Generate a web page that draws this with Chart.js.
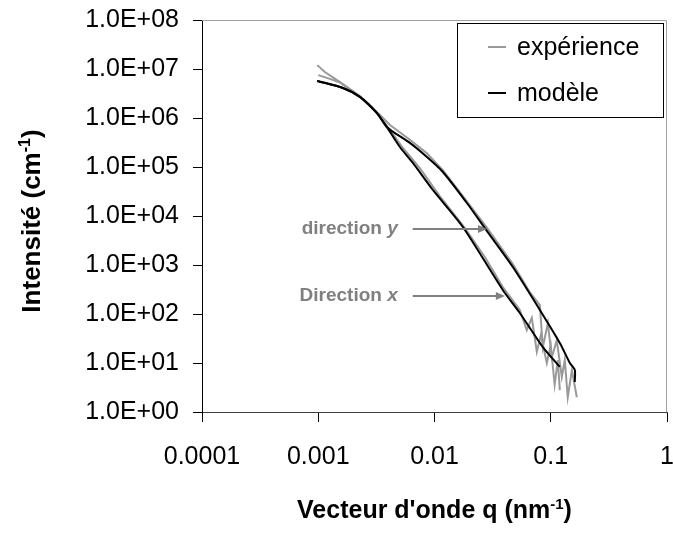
<!DOCTYPE html>
<html>
<head>
<meta charset="utf-8">
<script src="https://cdn.jsdelivr.net/npm/chart.js@4.4.1/dist/chart.umd.min.js"></script>
<style>
  html, body { margin: 0; padding: 0; background: #fff; }
  canvas { display: block; }
</style>
</head>
<body>
<canvas id="chart" width="673" height="533"></canvas>
<script>
/* Intensité vs vecteur d'onde, directions x et y (log-log) */
const X_TICKS = [0.0001, 0.001, 0.01, 0.1, 1];
const X_TICK_LABELS = ['0.0001', '0.001', '0.01', '0.1', '1'];
const Y_TICKS = [1, 10, 100, 1e3, 1e4, 1e5, 1e6, 1e7, 1e8];
const Y_TICK_LABELS = ['1.0E+00','1.0E+01','1.0E+02','1.0E+03','1.0E+04','1.0E+05','1.0E+06','1.0E+07','1.0E+08'];

const SERIES_NAMES = ['expérience', 'modèle'];
const X_TITLE = "Vecteur d'onde q (nm";
const Y_TITLE = 'Intensité (cm';

// modèle, direction y
const Q_MOD_Y = [0.00098, 0.00163, 0.00228, 0.0032, 0.0039, 0.00614, 0.0086, 0.0118, 0.019, 0.0283, 0.0472, 0.0806, 0.1197, 0.146, 0.161, 0.161];
const I_MOD_Y = [5.7e6, 4.1e6, 2.7e6, 1.26e6, 6.5e5, 3.1e5, 1.6e5, 7.9e4, 1.84e4, 4.9e3, 910, 121, 25.6, 10, 7.2, 4.1];
// modèle, direction x
const Q_MOD_X = [0.00098, 0.00163, 0.00228, 0.0032, 0.0039, 0.00504, 0.00652, 0.00968, 0.01754, 0.0387, 0.0542, 0.0855, 0.1197];
const I_MOD_X = [5.7e6, 4.1e6, 2.7e6, 1.26e6, 6.5e5, 2.56e5, 1.21e5, 3.4e4, 5.97e3, 309, 105, 21, 8.3];
// expérience, direction y
const Q_EXP_Y = [0.00098, 0.00114, 0.00154, 0.00228, 0.0032, 0.00414, 0.00614, 0.0086, 0.0118, 0.019, 0.0283, 0.0472, 0.066, 0.0806, 0.0855, 0.0944, 0.102, 0.1127, 0.1245, 0.132, 0.140, 0.152, 0.1676];
const I_EXP_Y = [1.2e7, 8.7e6, 5.4e6, 2.8e6, 1.33e6, 7.2e5, 3.6e5, 1.9e5, 8.6e4, 2.0e4, 5.7e3, 1050, 281, 152, 21, 65, 13, 29, 5.2, 11.5, 2.0, 7.2, 2.0];
// expérience, direction x
const Q_EXP_X = [0.001, 0.00126, 0.00154, 0.00228, 0.0032, 0.00414, 0.00535, 0.00748, 0.0111, 0.0182, 0.0271, 0.0387, 0.0542, 0.0622, 0.0687, 0.0759, 0.0822, 0.0925, 0.1, 0.108, 0.115, 0.1197];
const I_EXP_X = [7.5e6, 6.3e6, 5.3e6, 2.7e6, 1.26e6, 5.7e5, 2.44e5, 9.5e4, 2.56e4, 5.7e3, 1460, 356, 121, 47, 83, 17, 37, 10, 23, 3.6, 11.5, 2.8];

// annotations : [texte, lettre, q début flèche, q pointe, intensité]
const NOTES = [
  ['direction ', 'y', 0.0065, 0.0283, 5400],
  ['Direction ', 'x', 0.0065, 0.0403, 233]
];

const GREY = '#999999';
const BLACK = '#000000';
const FONT = "'Liberation Sans', Arial, sans-serif";

function zip(qs, is){ return qs.map((q, i) => ({ x: q, y: is[i] })); }

function series(data, color, order, tension){
  return { data, borderColor: color, backgroundColor: color, borderWidth: 2, showLine: true,
           pointRadius: 0, tension, order, fill: false };
}

function supText(ctx, base, sup, x, y, size, align){
  ctx.font = `bold ${size}px ${FONT}`;
  const w1 = ctx.measureText(base).width;
  ctx.font = `bold ${Math.round(size*0.6)}px ${FONT}`;
  const w2 = ctx.measureText(sup).width;
  ctx.font = `bold ${size}px ${FONT}`;
  const w3 = ctx.measureText(')').width;
  const total = w1 + w2 + w3;
  let x0 = align === 'center' ? x - total/2 : x;
  ctx.textAlign = 'left'; ctx.textBaseline = 'alphabetic';
  ctx.fillText(base, x0, y);
  ctx.font = `bold ${Math.round(size*0.6)}px ${FONT}`;
  ctx.fillText(sup, x0 + w1, y - size*0.38);
  ctx.font = `bold ${size}px ${FONT}`;
  ctx.fillText(')', x0 + w1 + w2, y);
}

function noPad(s){ s.paddingLeft = 0; s.paddingRight = 0; s.paddingTop = 0; s.paddingBottom = 0; }

const extras = {
  id: 'extras',
  afterDatasetsDraw(chart){
    const { ctx, chartArea: a, scales: { x, y } } = chart;
    ctx.save();
    // cadre gris haut / droite
    ctx.strokeStyle = '#a0a0a0'; ctx.lineWidth = 1;
    ctx.beginPath();
    ctx.moveTo(a.left, a.top + 0.5); ctx.lineTo(a.right - 0.5, a.top + 0.5); ctx.lineTo(a.right - 0.5, a.bottom);
    ctx.stroke();

    // flèches + textes
    NOTES.forEach(([txt, letter, q0, q1, iv]) => {
      const px0 = x.getPixelForValue(q0), px1 = x.getPixelForValue(q1), py = y.getPixelForValue(iv);
      ctx.strokeStyle = '#808080'; ctx.fillStyle = '#808080'; ctx.lineWidth = 2;
      ctx.beginPath(); ctx.moveTo(px0, py); ctx.lineTo(px1 - 7, py); ctx.stroke();
      ctx.beginPath(); ctx.moveTo(px1, py); ctx.lineTo(px1 - 9, py - 4); ctx.lineTo(px1 - 9, py + 4); ctx.closePath(); ctx.fill();
      ctx.textBaseline = 'middle'; ctx.textAlign = 'left';
      ctx.font = `bold italic 19px ${FONT}`;
      const wl = ctx.measureText(letter).width;
      ctx.font = `bold 19px ${FONT}`;
      const wt = ctx.measureText(txt).width;
      const xs = px0 - 15 - wl - wt;
      ctx.fillText(txt, xs, py);
      ctx.font = `bold italic 19px ${FONT}`;
      ctx.fillText(letter, xs + wt, py);
    });

    // légende
    const lx = 457, ly = 23, lw = 206, lh = 94;
    ctx.fillStyle = '#fff'; ctx.fillRect(lx, ly, lw, lh);
    ctx.strokeStyle = '#000'; ctx.lineWidth = 1;
    ctx.strokeRect(lx + 0.5, ly + 0.5, lw, lh);
    [[SERIES_NAMES[0], GREY, 47], [SERIES_NAMES[1], BLACK, 93]].forEach(([name, col, yy]) => {
      ctx.strokeStyle = col; ctx.lineWidth = 2;
      ctx.beginPath(); ctx.moveTo(488, yy); ctx.lineTo(506, yy); ctx.stroke();
      ctx.fillStyle = '#000'; ctx.font = `25px ${FONT}`;
      ctx.textAlign = 'left'; ctx.textBaseline = 'middle';
      ctx.fillText(name, 517, yy + 1);
    });

    // titres d'axes
    ctx.fillStyle = '#000';
    supText(ctx, X_TITLE, '-1', (a.left + a.right)/2, 518, 25, 'center');
    ctx.translate(40, 221);
    ctx.rotate(-Math.PI/2);
    supText(ctx, Y_TITLE, '-1', 0, 0, 26, 'center');
    ctx.restore();
  }
};

new Chart(document.getElementById('chart'), {
  type: 'scatter',
  data: {
    datasets: [
      series(zip(Q_MOD_Y, I_MOD_Y), BLACK, 0, 0.25),
      series(zip(Q_MOD_X, I_MOD_X), BLACK, 0, 0.25),
      series(zip(Q_EXP_Y, I_EXP_Y), GREY, 1, 0),
      series(zip(Q_EXP_X, I_EXP_X), GREY, 1, 0)
    ]
  },
  options: {
    responsive: false,
    animation: false,
    layout: { padding: { top: 20, right: 6, left: 0, bottom: 0 } },
    plugins: { legend: { display: false }, tooltip: { enabled: false } },
    scales: {
      x: {
        type: 'logarithmic', min: X_TICKS[0], max: X_TICKS[X_TICKS.length-1],
        afterBuildTicks: s => { s.ticks = X_TICKS.map(v => ({ value: v })); },
        afterFit: s => { s.height = 121; noPad(s); },
        border: { color: '#404040', width: 1 },
        grid: { drawOnChartArea: false, tickLength: 10, color: '#000' },
        ticks: { color: '#000', font: { family: FONT, size: 25 }, padding: 20, maxRotation: 0,
                 autoSkip: false, callback: (v, i) => X_TICK_LABELS[i] }
      },
      y: {
        type: 'logarithmic', min: Y_TICKS[0], max: Y_TICKS[Y_TICKS.length-1],
        afterBuildTicks: s => { s.ticks = Y_TICKS.map(v => ({ value: v })); },
        afterFit: s => { s.width = 202; noPad(s); },
        border: { color: '#000', width: 1 },
        grid: { drawOnChartArea: false, tickLength: 9, color: '#000' },
        ticks: { color: '#000', font: { family: FONT, size: 25 }, padding: 14,
                 autoSkip: false, callback: (v, i) => Y_TICK_LABELS[i] }
      }
    }
  },
  plugins: [extras]
});
</script>
</body>
</html>
